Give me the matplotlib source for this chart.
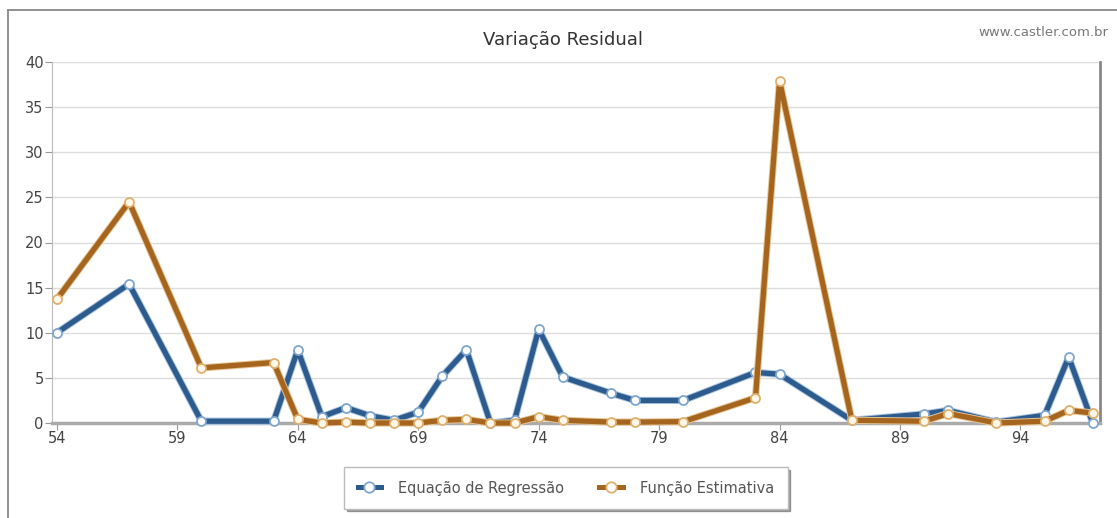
import matplotlib.pyplot as plt
import matplotlib.patheffects as pe
from matplotlib.lines import Line2D

# dados
anos = [54, 57, 60, 63, 64, 65, 66, 67, 68, 69, 70, 71, 72, 73, 74, 75, 77, 78,
        80, 83, 84, 87, 90, 91, 93, 95, 96, 97]
regressao = [10.0, 15.4, 0.2, 0.2, 8.1, 0.7, 1.7, 0.8, 0.3, 1.2, 5.2, 8.1, 0.0,
             0.3, 10.4, 5.1, 3.3, 2.5, 2.5, 5.6, 5.4, 0.3, 1.0, 1.4, 0.1, 0.85,
             7.3, 0.0]
estimativa = [13.7, 24.5, 6.1, 6.7, 0.4, 0.0, 0.1, 0.0, 0.0, 0.0, 0.3, 0.4, 0.0,
              0.0, 0.7, 0.3, 0.1, 0.1, 0.15, 2.8, 37.9, 0.3, 0.2, 1.05, 0.0, 0.2,
              1.4, 1.1]
xticks = [54, 59, 64, 69, 74, 79, 84, 89, 94]
yticks = [0, 5, 10, 15, 20, 25, 30, 35, 40]

azul = "#2d5b8e"
laranja = "#a5651f"
texto = "#444444"

plt.rcParams["font.family"] = ["DejaVu Sans"]

fig = plt.figure(figsize=(11.17, 5.18), dpi=100)
ax = fig.add_axes([52 / 1117, 95 / 518, (1100 - 52) / 1117, (423 - 62) / 518])

# linhas com leve contorno claro
ax.plot(anos, regressao, color=azul, lw=3.8, zorder=3, clip_on=False,
        path_effects=[pe.Stroke(linewidth=5.2, foreground="#a9c6e2"), pe.Normal()])
ax.plot(anos, estimativa, color=laranja, lw=3.8, zorder=5, clip_on=False,
        path_effects=[pe.Stroke(linewidth=5.2, foreground="#e6c595"), pe.Normal()])
# marcadores
ax.plot(anos, regressao, ls="none", marker="o", ms=6.5, mfc="white",
        mec="#7fa6d0", mew=1.3, zorder=4, clip_on=False)
ax.plot(anos, estimativa, ls="none", marker="o", ms=6.5, mfc="#fff8ea",
        mec="#e0b16e", mew=1.3, zorder=6, clip_on=False)

ax.set_xlim(53.8, 97.3)
ax.set_ylim(0, 40)
ax.set_xticks(xticks)
ax.set_yticks(yticks)
ax.tick_params(axis="both", colors="#999999", labelcolor=texto, labelsize=10.5,
               length=5, width=0.8, pad=1)
ax.grid(axis="y", color="#dddddd", lw=1)
ax.set_axisbelow(True)

ax.spines["top"].set_visible(False)
ax.spines["left"].set_color("#bbbbbb")
ax.spines["bottom"].set_color("#aaaaaa")
ax.spines["bottom"].set_linewidth(2.5)
ax.spines["right"].set_color("#888888")
ax.spines["right"].set_linewidth(2)

fig.text(563 / 1117, 1 - 40 / 518, "Variação Residual", ha="center", va="center",
         fontsize=13, color="#333333")
fig.text(1108 / 1117, 1 - 33 / 518, "www.castler.com.br", ha="right", va="center",
         fontsize=9.5, color="#777777")

# moldura da imagem
fig.add_artist(Line2D([8 / 1117, 8 / 1117], [0, 1 - 10 / 518], color="#888888",
                      lw=1.3, transform=fig.transFigure))
fig.add_artist(Line2D([8 / 1117, 1], [1 - 10 / 518, 1 - 10 / 518], color="#888888",
                      lw=1.3, transform=fig.transFigure))

handles = [
    Line2D([], [], color=azul, lw=3.6, marker="o", ms=7.5, mfc="white", mec="#7fa6d0", mew=1.3),
    Line2D([], [], color=laranja, lw=3.6, marker="o", ms=7.5, mfc="white", mec="#e0b16e", mew=1.3),
]
leg = fig.legend(handles, ["Equação de Regressão", "Função Estimativa"],
                 loc="center", bbox_to_anchor=(566 / 1117, 1 - 488 / 518), ncol=2,
                 frameon=True, fancybox=False, shadow=True, fontsize=10.5,
                 handlelength=1.6, handletextpad=1.2, columnspacing=2.4,
                 borderpad=0.9, labelcolor="#555555")
leg.get_frame().set_edgecolor("#bbbbbb")

fig.savefig("out.png", dpi=100)
